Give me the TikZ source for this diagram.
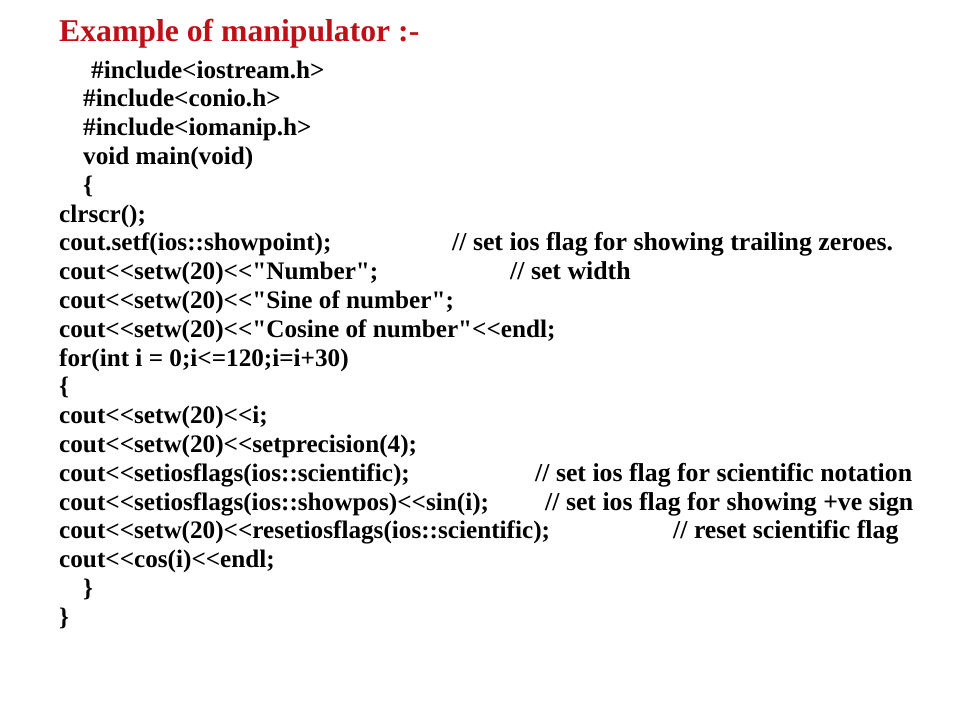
\documentclass[tikz,border=0pt]{standalone}
\usepackage{fontspec}
\newfontfamily\codefont{Liberation Serif}
\definecolor{titlered}{RGB}{190,16,22}
\tikzset{
  code/.style={anchor=base west,inner sep=0pt,font=\codefont\fontsize{25.2}{30}\selectfont\bfseries,text=black},
  comment/.style={anchor=base west,inner sep=0pt,font=\codefont\fontsize{25.8}{30}\selectfont\bfseries,text=black},
  titletext/.style={anchor=base west,inner sep=0pt,font=\codefont\fontsize{31.7}{36}\selectfont\bfseries,text=titlered}
}
\begin{document}
\begin{tikzpicture}[x=1pt,y=-1pt]
\useasboundingbox (0,0) rectangle (960,720);
\fill[white] (0,0) rectangle (960,720);
\node[titletext] (title) at (59,41) {Example of manipulator :-};
\def\L#1{78+#1*28.8}
\node[code] (l0) at (91,{\L{0}}) {\#include<iostream.h>};
\node[code] (l1) at (83,{\L{1}}) {\#include<conio.h>};
\node[code] (l2) at (83,{\L{2}}) {\#include<iomanip.h>};
\node[code] (l3) at (83,{\L{3}}) {void main(void)};
\node[code] (l4) at (83,{\L{4}}) {\{};
\node[code] (l5) at (59,{\L{5}}) {clrscr();};
\node[code] (l6) at (59,{\L{6}}) {cout.setf(ios::showpoint);};
\node[comment] (c6) at (452,{\L{6}}) {// set ios flag for showing trailing zeroes.};
\node[code] (l7) at (59,{\L{7}}) {cout<<setw(20)<<"Number";};
\node[comment] (c7) at (510,{\L{7}}) {// set width};
\node[code] (l8) at (59,{\L{8}}) {cout<<setw(20)<<"Sine of number";};
\node[code] (l9) at (59,{\L{9}}) {cout<<setw(20)<<"Cosine of number"<<endl;};
\node[code] (l10) at (59,{\L{10}}) {for(int i = 0;i<=120;i=i+30)};
\node[code] (l11) at (59,{\L{11}}) {\{};
\node[code] (l12) at (59,{\L{12}}) {cout<<setw(20)<<i;};
\node[code] (l13) at (59,{\L{13}}) {cout<<setw(20)<<setprecision(4);};
\node[code] (l14) at (59,{\L{14}}) {cout<<setiosflags(ios::scientific);};
\node[comment] (c14) at (535,{\L{14}}) {// set ios flag for scientific notation};
\node[code] (l15) at (59,{\L{15}}) {cout<<setiosflags(ios::showpos)<<sin(i);};
\node[comment] (c15) at (545,{\L{15}}) {// set ios flag for showing +ve sign};
\node[code] (l16) at (59,{\L{16}}) {cout<<setw(20)<<resetiosflags(ios::scientific);};
\node[comment] (c16) at (673,{\L{16}}) {// reset scientific flag};
\node[code] (l17) at (59,{\L{17}}) {cout<<cos(i)<<endl;};
\node[code] (l18) at (83,{\L{18}}) {\}};
\node[code] (l19) at (59,{\L{19}}) {\}};
\end{tikzpicture}
\end{document}
